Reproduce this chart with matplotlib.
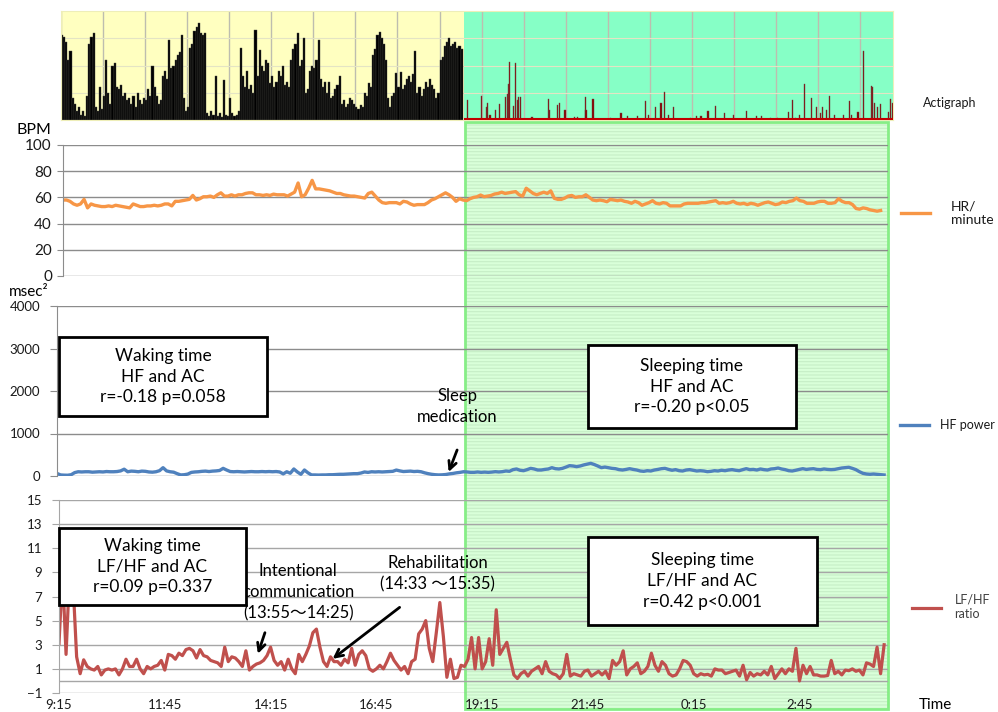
import numpy as np
import matplotlib.pyplot as plt
from matplotlib.patches import Rectangle
from matplotlib.transforms import blended_transform_factory

plt.rcParams["font.family"] = ["Lato", "Noto Sans CJK JP", "DejaVu Sans"]
plt.rcParams["hatch.linewidth"] = 0.8

W, H = 998, 712
STEP = 5             # minutes between HRV samples
ACT_STEP = 3         # minutes per actigraph bar (waking part)
SLEEP_START = 575    # minutes after 9:15
X_END = 1175.5
ACT_END = 1187

TICK_MIN = [0, 150, 300, 450, 600, 750, 900, 1050]
TICK_LABELS = ["9:15", "11:45", "14:15", "16:45", "19:15", "21:45", "0:15", "2:45"]

# actigraph, waking part (relative counts, % of panel height)
ACT_WAKE = [
    78, 76, 72, 55, 63, 20, 15, 8, 12, 5,
    8, 4, 22, 70, 76, 80, 12, 8, 30, 10,
    22, 55, 25, 15, 50, 52, 30, 28, 32, 22,
    25, 18, 20, 15, 22, 12, 25, 18, 15, 20,
    18, 28, 22, 50, 30, 22, 15, 18, 40, 45,
    38, 73, 48, 50, 55, 60, 62, 78, 20, 8,
    12, 66, 70, 82, 85, 89, 80, 78, 80, 6,
    4, 8, 5, 40, 4, 6, 3, 37, 5, 4,
    20, 6, 4, 5, 8, 66, 40, 30, 45, 28,
    32, 25, 83, 40, 64, 50, 45, 55, 52, 34,
    40, 30, 35, 45, 40, 50, 32, 35, 30, 55,
    65, 70, 80, 50, 55, 75, 25, 28, 45, 50,
    48, 55, 73, 38, 30, 35, 25, 35, 20, 22,
    28, 32, 40, 15, 18, 12, 15, 20, 18, 15,
    12, 10, 14, 12, 25, 22, 34, 30, 60, 65,
    78, 81, 75, 70, 55, 20, 12, 22, 25, 43,
    30, 44, 28, 32, 38, 40, 35, 42, 63, 25,
    30, 22, 28, 35, 30, 38, 32, 28, 20, 25,
    55, 58, 68, 72, 75, 68, 70, 72, 66, 68,
    65,
]

# actigraph, sleeping part: spike times (min after 9:15) and heights
ACT_SLEEP_MIN = [
    580, 600, 607, 609, 612, 620, 625, 634, 637, 639,
    640, 645, 649, 651, 653, 656, 672, 695, 697, 708,
    711, 719, 733, 737, 748, 749, 759, 784, 799, 808,
    823, 834, 838, 848, 856, 861, 867, 874, 898, 907,
    913, 923, 934, 947, 960, 978, 992, 1000, 1012, 1022,
    1038, 1043, 1048, 1054, 1061, 1071, 1078, 1084, 1087, 1092,
    1097, 1104, 1117, 1125, 1128, 1137, 1145, 1156, 1158, 1161,
    1165, 1169, 1180, 1184, 1187,
]
ACT_SLEEP = [
    18, 22, 12, 16, 5, 9, 15, 21, 24, 33,
    53, 13, 52, 18, 21, 21, 3, 19, 9, 14,
    16, 9, 3, 3, 21, 9, 19, 2, 6, 4,
    4, 17, 5, 12, 16, 26, 5, 12, 2, 4,
    4, 8, 13, 6, 5, 8, 4, 4, 2, 2,
    7, 18, 2, 5, 33, 20, 12, 6, 12, 9,
    22, 5, 5, 17, 5, 7, 63, 31, 30, 16,
    12, 15, 7, 19, 16,
]

# heart rate (BPM), every 5 min from 9:15
HR = [
    58, 58, 57, 55, 54, 55, 58.5, 52, 55, 54,
    53.5, 53, 53, 53.5, 53, 54, 53.5, 53, 52.5, 52,
    55, 54, 53, 53, 53.5, 53.5, 54, 53.5, 54, 55,
    55, 53.5, 57, 57, 57.5, 58, 58.5, 61.5, 58, 59,
    60.5, 60.5, 61, 60, 62, 63.5, 61, 61, 62, 61,
    62, 62, 63, 63.5, 63.5, 62, 62, 61.5, 62, 61.5,
    62.5, 62, 62, 62, 61, 62.5, 64, 71, 60.5, 62,
    67, 73, 66.5, 66.5, 66, 65.5, 65, 64, 63, 63,
    62, 61.5, 61, 61, 60.5, 60, 59.5, 63, 64, 61,
    58, 56, 55.5, 56, 56, 56, 55, 57, 56.5, 55,
    54, 54.5, 54.5, 54.5, 56, 58, 59, 60.5, 62, 63.5,
    62, 60, 57, 59, 58, 57.5, 59, 60, 60.5, 61.8,
    60.5, 61, 61.5, 62.6, 63, 64, 63, 63.5, 64, 64.4,
    62, 61, 67, 65, 63, 62, 63, 64, 63, 65,
    59.3, 58.5, 58.5, 59.5, 61, 61.5, 60, 60.5, 60.5, 62,
    60, 58, 57.5, 58, 57.5, 56.7, 58.5, 58, 57.5, 58,
    57, 56.5, 55.5, 57, 56, 54, 55, 56, 57.5, 55.5,
    55, 56, 55.5, 53.5, 53.5, 53.5, 53.5, 55, 55.5, 55.5,
    55.5, 55.5, 56, 56, 56.5, 57, 57.5, 55.5, 56, 55.5,
    56, 57, 55.5, 55, 55.5, 54.5, 55.5, 55, 54, 55,
    56, 56.5, 55.5, 54.5, 55, 56.5, 56, 57, 57.5, 59.5,
    57.5, 57, 55.5, 55.5, 55.5, 56.5, 57, 57, 55.5, 55.5,
    56, 59, 57, 56, 56, 54.5, 51.5, 51, 52, 51.5,
    50.5, 50, 49.5, 50,
]

# HF power (msec^2), every 5 min from 9:15
HF = [
    60, 25, 20, 18, 30, 80, 100, 95, 100, 100,
    90, 95, 100, 95, 105, 100, 100, 105, 120, 160,
    100, 115, 110, 100, 115, 110, 95, 90, 100, 125,
    196, 120, 100, 90, 55, 25, 30, 45, 85, 95,
    100, 110, 115, 105, 115, 120, 130, 180, 140, 105,
    100, 105, 100, 95, 100, 105, 100, 100, 105, 100,
    105, 100, 105, 95, 50, 100, 65, 165, 95, 40,
    141, 75, 25, 25, 22, 25, 25, 30, 30, 35,
    40, 40, 45, 50, 55, 55, 70, 95, 85, 100,
    95, 100, 95, 100, 105, 110, 140, 120, 105, 110,
    115, 105, 110, 100, 75, 55, 40, 30, 25, 28,
    35, 50, 60, 75, 85, 100, 95, 86, 86, 95,
    86, 92, 86, 92, 102, 95, 102, 118, 110, 150,
    165, 135, 125, 150, 180, 165, 141, 141, 155, 165,
    196, 172, 165, 180, 210, 243, 235, 220, 235, 260,
    280, 298, 270, 235, 196, 210, 196, 180, 172, 150,
    141, 155, 172, 155, 141, 118, 110, 125, 118, 141,
    155, 172, 180, 155, 135, 150, 125, 118, 141, 150,
    135, 118, 125, 118, 102, 110, 125, 118, 135, 125,
    141, 150, 135, 125, 150, 172, 150, 155, 141, 165,
    150, 141, 165, 172, 188, 165, 150, 125, 118, 135,
    155, 172, 155, 165, 172, 155, 150, 165, 155, 150,
    155, 172, 188, 196, 205, 180, 150, 102, 63, 47,
    40, 47, 40, 32, 24,
]

# LF/HF ratio, every 5 min from 9:15
LFHF = [
    3.1, 9, 2.2, 9, 8, 2.0, 0.6, 1.75, 1.2, 1.0,
    0.9, 1.2, 0.5, 0.9, 1.0, 0.9, 1.0, 0.5, 1.0, 1.8,
    1.2, 1.2, 1.8, 1.0, 0.6, 1.2, 1.0, 1.2, 1.3, 1.7,
    0.9, 2.2, 2.1, 1.8, 2.3, 2.1, 2.6, 2.7, 2.5, 1.9,
    2.6, 2.1, 2.0, 1.7, 1.6, 1.5, 1.2, 2.8, 1.6, 2.0,
    1.9, 1.6, 1.2, 2.5, 0.9, 1.2, 1.4, 1.5, 1.7, 2.1,
    2.8, 1.7, 1.3, 1.6, 0.9, 1.8, 1.0, 0.6, 2.2, 1.6,
    2.2, 2.9, 4.0, 4.3, 2.8, 1.6, 1.2, 2.0, 1.6, 1.6,
    1.3, 1.8, 1.5, 2.7, 1.3, 2.2, 2.5, 2.1, 1.0, 0.8,
    1.0, 1.3, 1.0, 1.6, 2.3, 1.7, 1.3, 0.9, 1.2, 0.6,
    1.6, 1.8, 3.9, 4.3, 5.0, 2.7, 1.6, 4.0, 6.5, 3.7,
    0.3, 1.8, 0.2, 0.3, 1.3, 1.2, 1.8, 3.6, 1.0, 3.6,
    1.0, 1.6, 3.5, 1.3, 5.9, 2.2, 2.7, 3.2, 1.8, 0.5,
    0.2, 0.6, 0.8, 0.4, 0.8, 1.0, 1.2, 0.6, 1.6, 0.8,
    0.6, 0.5, 0.2, 0.6, 2.2, 0.4, 0.6, 0.5, 0.4, 0.8,
    0.9, 0.4, 0.6, 0.8, 0.5, 0.8, 0.2, 1.7, 1.3, 1.6,
    2.5, 0.5, 1.0, 1.2, 1.5, 0.6, 0.8, 1.2, 2.3, 1.3,
    0.8, 1.6, 1.3, 0.6, 0.4, 0.5, 1.0, 1.7, 1.6, 1.3,
    0.6, 0.4, 0.6, 0.5, 0.55, 0.4, 1.0, 0.9, 0.9, 0.6,
    0.7, 0.8, 0.9, 0.4, 1.3, 0.1, 0.7, 0.4, 0.6, 0.5,
    0.8, 0.5, 1.2, 0.2, 0.6, 1.0, 0.6, 1.0, 0.8, 2.7,
    0.0, 1.3, 0.6, 1.2, 0.5, 0.5, 0.4, 0.4, 0.45, 1.7,
    0.6, 0.8, 0.5, 0.9, 0.85, 1.0, 0.8, 0.9, 0.5, 1.5,
    1.4, 1.2, 2.8, 0.6, 3.0,
]

GRID = "#8C8C8C"


def px_axes(fig, left, top, right, bottom):
    """axes placed by pixel edges of the 998x712 canvas"""
    return fig.add_axes([left / W, 1 - bottom / H, (right - left) / W, (bottom - top) / H])


def note_box(fig, left, top, right, bottom, text):
    fig.add_artist(Rectangle((left / W, 1 - bottom / H), (right - left) / W, (bottom - top) / H,
                             facecolor="white", edgecolor="black", linewidth=2, zorder=5))
    fig.text((left + right) / 2 / W, 1 - (top + bottom) / 2 / H, text, ha="center", va="center",
             fontsize=12.5, linespacing=1.35, zorder=6)


def style_panel(ax, yticks, labelsize, tick_len, pad, grid_color=GRID):
    ax.set_facecolor("none")
    ax.set_xlim(0, X_END)
    ax.set_ylim(yticks[0], yticks[-1])
    ax.set_yticks(yticks)
    ax.grid(axis="y", color=grid_color, linewidth=1)
    ax.set_axisbelow(True)
    for side in ("top", "right", "bottom"):
        ax.spines[side].set_visible(False)
    ax.spines["left"].set_color(grid_color)
    ax.tick_params(axis="y", length=tick_len, color=grid_color, pad=pad, labelsize=labelsize,
                   labelcolor="#1a1a1a")
    ax.tick_params(axis="x", length=0)


def main():
    fig = plt.figure(figsize=(W / 100, H / 100), dpi=100)

    # ---- actigraph ----
    ax_act = px_axes(fig, 61, 11, 893, 120)
    ax_act.set_xlim(0, ACT_END)
    ax_act.set_ylim(0, 100)
    ax_act.axvspan(0, SLEEP_START, color="#FFFFC0", zorder=0, linewidth=0)
    ax_act.axvspan(SLEEP_START, ACT_END, color="#86FFC6", zorder=0, linewidth=0)
    t_act = np.arange(len(ACT_WAKE)) * ACT_STEP
    ax_act.bar(t_act, ACT_WAKE, width=ACT_STEP, align="edge", color="black",
               edgecolor="#4a4a44", linewidth=0.3, zorder=2)
    ax_act.bar(ACT_SLEEP_MIN, ACT_SLEEP, width=1.6, color="#8B0000", edgecolor="#6e4a4a",
               linewidth=0.3, zorder=2)
    ax_act.hlines(0.8, SLEEP_START, ACT_END, color="#C00000", linewidth=1.5, zorder=3)
    ax_act.set_xticks(np.arange(0, ACT_END, 60))
    ax_act.set_yticks([25, 50, 75])
    ax_act.grid(axis="x", color="#BDBDAF", linewidth=1)
    ax_act.grid(axis="y", color="#E4E4C4", linewidth=0.8)
    ax_act.set_axisbelow(True)
    ax_act.tick_params(length=0, labelbottom=False, labelleft=False)
    for sp in ax_act.spines.values():
        sp.set_color("#EEEEB8")
    ax_act.text(1.036, 0.156, "Actigraph", transform=ax_act.transAxes, fontsize=9, va="center",
                color="#1a1a1a")

    # ---- HR ----
    ax_hr = px_axes(fig, 63, 145, 888, 276)
    style_panel(ax_hr, [0, 20, 40, 60, 80, 100], 11, 4, 4)
    ax_hr.set_xticks([])
    ax_hr.plot(np.arange(len(HR)) * STEP, HR, color="#F79646", linewidth=2.4, label="HR/\nminute")
    ax_hr.legend(loc="center left", bbox_to_anchor=(1.0158, 0.48), frameon=False, fontsize=10,
                 handlelength=2.1, handletextpad=1.5, borderpad=0, borderaxespad=0,
                 labelcolor="#1a1a1a")

    # ---- HF power ----
    ax_hf = px_axes(fig, 57, 306, 888, 476)
    style_panel(ax_hf, [0, 1000, 2000, 3000, 4000], 9.5, 5, 7)
    ax_hf.set_xticks([])
    ax_hf.plot(np.arange(len(HF)) * STEP, HF, color="#4F81BD", linewidth=2.4, label="HF power")
    ax_hf.legend(loc="center left", bbox_to_anchor=(1.0144, 0.30), frameon=False, fontsize=9,
                 handlelength=2.3, handletextpad=0.9, borderpad=0, borderaxespad=0,
                 labelcolor="#1a1a1a")
    ax_hf.text(566, 1635, "Sleep\nmedication", ha="center", va="center", fontsize=12,
               linespacing=1.4)
    ax_hf.annotate("", xy=(554, 94), xytext=(566, 612),
                   arrowprops=dict(arrowstyle="->", lw=2, color="black", shrinkA=0, shrinkB=0,
                                   mutation_scale=14))

    # ---- LF/HF ----
    ax_lf = px_axes(fig, 59, 500, 888, 693)
    style_panel(ax_lf, [-1, 1, 3, 5, 7, 9, 11, 13, 15], 9.5, 5, 7, grid_color="#A6A6A6")
    ax_lf.axhline(0, color="#A6A6A6", linewidth=1, zorder=0.5)
    ax_lf.set_xticks(TICK_MIN, TICK_LABELS)
    ax_lf.tick_params(axis="x", length=0, pad=4, labelsize=9.5, labelcolor="#1a1a1a")
    ax_lf.plot(np.arange(len(LFHF)) * STEP, LFHF, color="#C0504D", linewidth=2.3,
               label="LF/HF\nratio")
    ax_lf.legend(loc="center left", bbox_to_anchor=(1.029, 0.4456), frameon=False, fontsize=9,
                 handlelength=2.3, handletextpad=1.1, borderpad=0, borderaxespad=0,
                 labelcolor="#404040")
    ax_lf.text(339, 7.33, "Intentional\ncommunication\n(13:55～14:25)", ha="center", va="center",
               fontsize=12, linespacing=1.4)
    ax_lf.annotate("", xy=(282, 2.25), xytext=(292, 4.0),
                   arrowprops=dict(arrowstyle="->", lw=2, color="black", shrinkA=0, shrinkB=0,
                                   mutation_scale=14))
    ax_lf.text(537, 8.9, "Rehabilitation\n(14:33 ～15:35)", ha="center", va="center",
               fontsize=12, linespacing=1.4)
    ax_lf.annotate("", xy=(388, 1.83), xytext=(483, 6.1),
                   arrowprops=dict(arrowstyle="->", lw=2, color="black", shrinkA=0, shrinkB=0,
                                   mutation_scale=14))
    ax_lf.text(1.057, -0.062, "Time", transform=ax_lf.transAxes, ha="center", va="center",
               fontsize=11)

    # sleeping period background across the three lower panels
    trans = blended_transform_factory(ax_lf.transData, fig.transFigure)
    y0, y1 = 1 - 709 / H, 1 - 122 / H
    fig.add_artist(Rectangle((SLEEP_START, y0), X_END - SLEEP_START, y1 - y0, transform=trans,
                             facecolor="#D9FFD9", edgecolor="#C6EEC6", hatch="-----",
                             linewidth=0, zorder=-2))
    fig.add_artist(Rectangle((SLEEP_START, y0), X_END - SLEEP_START, y1 - y0, transform=trans,
                             facecolor="none", edgecolor="#86EE86", linewidth=2, zorder=-1))

    # correlation boxes
    note_box(fig, 59, 337, 267, 416, "Waking time\nHF and AC\nr=-0.18 p=0.058")
    note_box(fig, 588, 345, 796, 428, "Sleeping time\nHF and AC\nr=-0.20 p<0.05")
    note_box(fig, 59, 528, 246, 605, "Waking time\nLF/HF and AC\nr=0.09 p=0.337")
    note_box(fig, 588, 537, 817, 625, "Sleeping time\nLF/HF and AC\nr=0.42 p<0.001")

    fig.text(17 / W, 1 - 130 / H, "BPM", fontsize=11.5, va="center")
    fig.text(9 / W, 1 - 292 / H, "msec²", fontsize=11, va="center")

    fig.savefig("out.png", dpi=100)


if __name__ == "__main__":
    main()
